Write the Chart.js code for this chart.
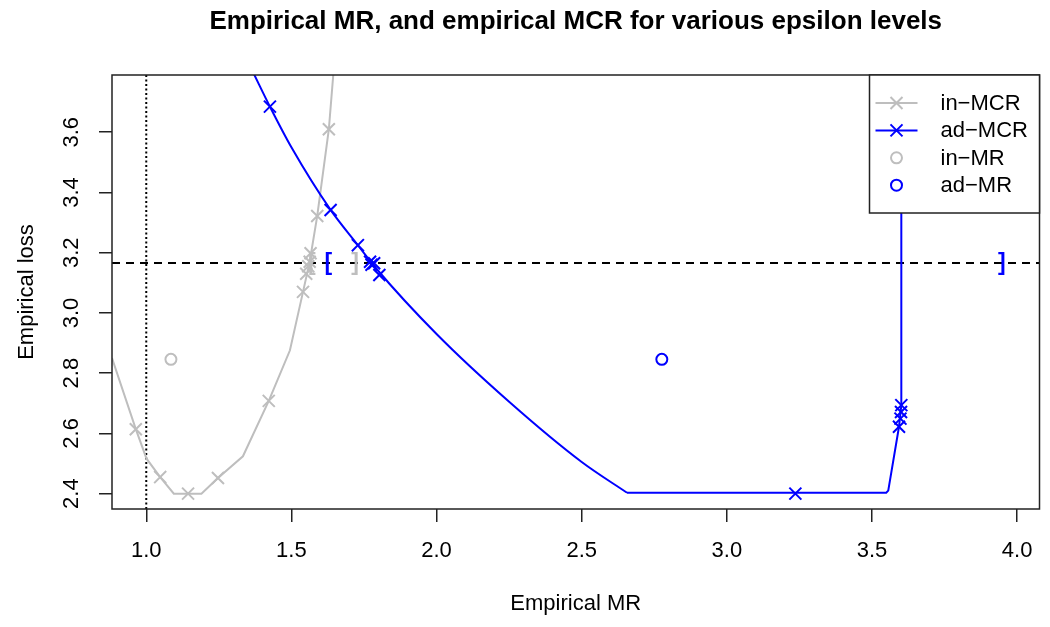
<!DOCTYPE html>
<html><head><meta charset="utf-8">
<script src="https://cdn.jsdelivr.net/npm/chart.js@4/dist/chart.umd.min.js"></script>
<style>html,body{margin:0;padding:0;background:#fff}#wrap{width:1050px;height:627px}</style>
</head><body><div id="wrap"><canvas id="c" width="1050" height="627"></canvas></div>
<script>
// ---- text ----
const titleText = 'Empirical MR, and empirical MCR for various epsilon levels';
const xAxisLabel = 'Empirical MR';
const yAxisLabel = 'Empirical loss';
const legendLabels = ['in\u2212MCR', 'ad\u2212MCR', 'in\u2212MR', 'ad\u2212MR'];

// ---- axes ----
const xTicks = [1.0, 1.5, 2.0, 2.5, 3.0, 3.5, 4.0];
const yTicks = [2.4, 2.6, 2.8, 3.0, 3.2, 3.4, 3.6];
const xRange = [0.882, 4.077];
const yRange = [2.349, 3.790];

// ---- in-MCR curve (gray) ----
const inCurveX = [0.882, 0.964, 1.001, 1.048, 1.095, 1.190, 1.247, 1.333, 1.422, 1.495, 1.540, 1.563, 1.589, 1.629, 1.645];
const inCurveY = [2.850, 2.614, 2.516, 2.455, 2.400, 2.400, 2.452, 2.524, 2.708, 2.876, 3.070, 3.170, 3.322, 3.610, 3.800];
const inMarkX = [0.964, 1.048, 1.144, 1.247, 1.422, 1.540, 1.551, 1.558, 1.563, 1.566, 1.589, 1.629];
const inMarkY = [2.614, 2.455, 2.400, 2.452, 2.708, 3.070, 3.130, 3.155, 3.170, 3.198, 3.322, 3.610];

// ---- ad-MCR curve (blue): smooth descending part, then flat + vertical tail ----
const adCurveX = [1.370, 1.426, 1.500, 1.635, 1.729, 1.790, 2.000, 2.250, 2.500, 2.656];
const adCurveY = [3.795, 3.685, 3.550, 3.342, 3.225, 3.150, 2.930, 2.705, 2.505, 2.403];
const adTailX = [2.656, 3.549, 3.556, 3.593, 3.601, 3.601];
const adTailY = [2.403, 2.403, 2.410, 2.622, 2.694, 3.800];
const adMarkX = [1.426, 1.635, 1.729, 1.771, 1.776, 1.785, 1.803, 3.236, 3.593, 3.598, 3.600, 3.601];
const adMarkY = [3.685, 3.342, 3.225, 3.170, 3.160, 3.165, 3.126, 2.400, 2.622, 2.649, 2.671, 2.694];

// ---- MR points ----
const inMRX = [1.085], inMRY = [2.846];
const adMRX = [2.776], adMRY = [2.846];

// ---- reference lines & interval brackets ----
const lossThreshold = 3.166;
const refMR = 1.0;
const bracketX = [1.570, 1.627, 1.719, 3.947];
const bracketText = ['[', '[', ']', ']'];
const bracketSeries = ['in', 'ad', 'in', 'ad'];

const GRAY = '#bebebe', BLUE = '#0000ff';
const FONT = '"Liberation Sans", Arial, sans-serif';
const zip = (xs, ys) => xs.map((x, i) => ({x, y: ys[i]}));

const overlay = {
  id: 'overlay',
  afterDatasetsDraw(chart) {
    const {ctx, chartArea: a, scales: {x, y}} = chart;
    ctx.save();
    // brackets
    ctx.font = 'bold 23px ' + FONT;
    ctx.textAlign = 'center'; ctx.textBaseline = 'middle';
    bracketX.forEach((bx, i) => {
      ctx.fillStyle = bracketSeries[i] === 'in' ? GRAY : BLUE;
      ctx.fillText(bracketText[i], x.getPixelForValue(bx), y.getPixelForValue(lossThreshold) + 1);
    });
    // box
    ctx.strokeStyle = '#222'; ctx.lineWidth = 1.5;
    ctx.strokeRect(a.left, a.top, a.right - a.left, a.bottom - a.top);
    // legend
    const lw = 170, lh = 138;
    const lx = a.right - lw, ly = a.top;
    ctx.fillStyle = '#fff'; ctx.fillRect(lx, ly, lw, lh);
    ctx.strokeRect(lx, ly, lw, lh);
    const colors = [GRAY, BLUE, GRAY, BLUE];
    legendLabels.forEach((lab, i) => {
      const cy = ly + 28 + i * 27.4;
      const cx = lx + 27;
      ctx.strokeStyle = colors[i]; ctx.lineWidth = 2;
      if (i < 2) {
        ctx.beginPath(); ctx.moveTo(lx + 6, cy); ctx.lineTo(lx + 48, cy); ctx.stroke();
        const r = 6;
        ctx.beginPath();
        ctx.moveTo(cx - r, cy - r); ctx.lineTo(cx + r, cy + r);
        ctx.moveTo(cx - r, cy + r); ctx.lineTo(cx + r, cy - r);
        ctx.stroke();
      } else {
        ctx.beginPath(); ctx.arc(cx, cy, 5.5, 0, Math.PI * 2); ctx.stroke();
      }
      ctx.fillStyle = '#000'; ctx.font = '22px ' + FONT;
      ctx.textAlign = 'left'; ctx.textBaseline = 'middle';
      ctx.fillText(lab, lx + 71, cy + 1);
    });
    ctx.restore();
  },
  afterDraw(chart) {
    const {ctx, chartArea: a} = chart;
    ctx.save();
    ctx.fillStyle = '#000';
    ctx.font = 'bold 26px ' + FONT;
    ctx.textAlign = 'center'; ctx.textBaseline = 'middle';
    ctx.fillText(titleText, (a.left + a.right) / 2, 22);
    ctx.restore();
  }
};

new Chart(document.getElementById('c'), {
  type: 'scatter',
  data: {
    datasets: [
      {label: 'in-MCR marks', data: zip(inMarkX, inMarkY), pointStyle: 'crossRot', pointRadius: 8.5, borderColor: GRAY, borderWidth: 2, showLine: false},
      {label: 'ad-MCR marks', data: zip(adMarkX, adMarkY), pointStyle: 'crossRot', pointRadius: 8.5, borderColor: BLUE, borderWidth: 2, showLine: false},
      {label: 'ad-MCR', data: zip(adCurveX, adCurveY), showLine: true, borderColor: BLUE, borderWidth: 2, pointRadius: 0, cubicInterpolationMode: 'monotone'},
      {label: 'ad-MCR tail', data: zip(adTailX, adTailY), showLine: true, borderColor: BLUE, borderWidth: 2, pointRadius: 0, tension: 0},
      {label: 'in-MCR', data: zip(inCurveX, inCurveY), showLine: true, borderColor: GRAY, borderWidth: 2, pointRadius: 0, tension: 0},
      {label: 'in-MR', data: zip(inMRX, inMRY), pointStyle: 'circle', pointRadius: 5.5, borderColor: GRAY, backgroundColor: 'rgba(0,0,0,0)', borderWidth: 2, showLine: false},
      {label: 'ad-MR', data: zip(adMRX, adMRY), pointStyle: 'circle', pointRadius: 5.5, borderColor: BLUE, backgroundColor: 'rgba(0,0,0,0)', borderWidth: 2, showLine: false},
      {label: 'threshold', data: [{x: xRange[0], y: lossThreshold}, {x: xRange[1], y: lossThreshold}], showLine: true, borderColor: '#000', borderWidth: 2, borderDash: [8, 6], pointRadius: 0},
      {label: 'ref', data: [{x: refMR, y: yRange[0]}, {x: refMR, y: yRange[1]}], showLine: true, borderColor: '#000', borderWidth: 2, borderDash: [2, 2.5], pointRadius: 0}
    ]
  },
  options: {
    responsive: false, animation: false, devicePixelRatio: 1,
    layout: {padding: {left: 0, right: 8, top: 75, bottom: 0}},
    plugins: {legend: {display: false}, tooltip: {enabled: false}, title: {display: false}},
    elements: {line: {borderCapStyle: 'butt'}},
    scales: {
      x: {
        type: 'linear', min: xRange[0], max: xRange[1],
        afterBuildTicks: s => { s.ticks = xTicks.map(v => ({value: v})); },
        afterFit: s => { s.height = 627 - 509; },
        ticks: {font: {size: 22, family: FONT}, color: '#000', padding: 16, maxRotation: 0, callback: v => v.toFixed(1)},
        grid: {drawOnChartArea: false, drawTicks: true, tickLength: 13, color: '#222', lineWidth: 1.5},
        border: {display: false},
        title: {display: true, text: xAxisLabel, font: {size: 22, family: FONT}, color: '#000', padding: {top: 0, bottom: 10}}
      },
      y: {
        type: 'linear', min: yRange[0], max: yRange[1],
        afterBuildTicks: s => { s.ticks = yTicks.map(v => ({value: v})); },
        afterFit: s => { s.width = 112; },
        ticks: {font: {size: 22, family: FONT}, color: '#000', padding: 12, minRotation: 90, maxRotation: 90, crossAlign: 'center', callback: v => v.toFixed(1)},
        grid: {drawOnChartArea: false, drawTicks: true, tickLength: 13, color: '#222', lineWidth: 1.5},
        border: {display: false},
        title: {display: true, text: yAxisLabel, font: {size: 22, family: FONT}, color: '#000', padding: {top: 14, bottom: 0}}
      }
    }
  },
  plugins: [overlay]
});
</script></body></html>
